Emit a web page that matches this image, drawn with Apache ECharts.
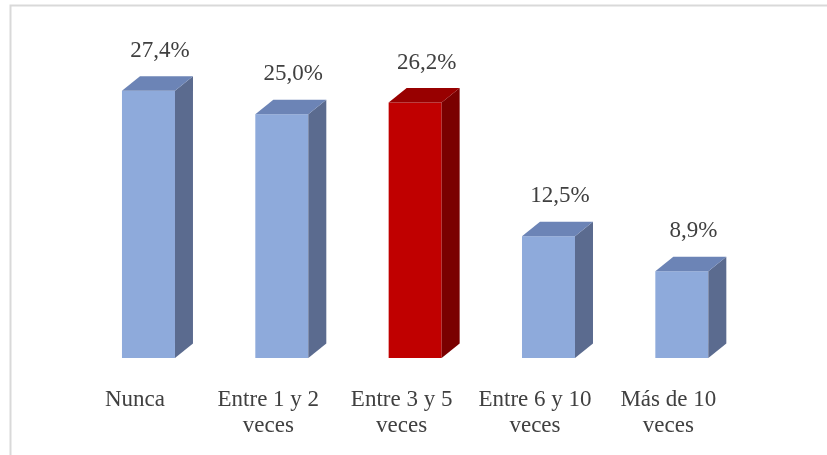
<!DOCTYPE html>
<html>
<head>
<meta charset="utf-8">
<script src="https://cdn.jsdelivr.net/npm/echarts@6/dist/echarts.min.js"></script>
<style>html,body{margin:0;padding:0;background:#fff}#c{width:827px;height:455px}</style>
</head>
<body>
<div id="c"></div>
<script>
const categories = ['Nunca', 'Entre 1 y 2\nveces', 'Entre 3 y 5\nveces', 'Entre 6 y 10\nveces', 'Más de 10\nveces'];
const values = [27.4, 25.0, 26.2, 12.5, 8.9];
const labels = ['27,4%', '25,0%', '26,2%', '12,5%', '8,9%'];
const highlightIndex = 2;

const blue = {front: '#8EAADB', side: '#5B6B8F', top: '#6C84B6'};
const red = {front: '#C00000', side: '#7A0000', top: '#980000'};

const chart = echarts.init(document.getElementById('c'));
chart.setOption({
  animation: false,
  backgroundColor: '#fff',
  graphic: [{
    type: 'rect', shape: {x: 10.5, y: 5.5, width: 840, height: 470},
    style: {fill: 'none', stroke: '#D9D9D9', lineWidth: 2}, silent: true
  }],
  grid: {left: 68.3, width: 666.7, top: 65.5, bottom: 97},
  xAxis: {
    type: 'category', data: categories,
    axisLine: {show: false}, axisTick: {show: false},
    axisLabel: {
      interval: 0, margin: 29, color: '#404040',
      fontFamily: 'Liberation Serif', fontSize: 23, lineHeight: 26
    }
  },
  yAxis: {type: 'value', min: 0, max: 30, show: false, splitLine: {show: false}},
  series: [{
    type: 'custom',
    data: values.map((v, i) => [i, v]),
    renderItem: function (params, api) {
      const i = api.value(0);
      const v = api.value(1);
      const top = api.coord([i, v]);
      const base = api.coord([i, 0]);
      const cx = top[0];
      const x0 = cx - 13, x1 = cx + 40;
      const dx = 18, dy = 14.5;
      const yT = top[1], yB = base[1];
      const c = i === highlightIndex ? red : blue;
      return {
        type: 'group',
        children: [
          {type: 'rect', shape: {x: x0, y: yT, width: x1 - x0, height: yB - yT}, style: {fill: c.front}},
          {type: 'polygon', shape: {points: [[x1, yT], [x1 + dx, yT - dy], [x1 + dx, yB - dy], [x1, yB]]}, style: {fill: c.side}},
          {type: 'polygon', shape: {points: [[x0, yT], [x0 + dx, yT - dy], [x1 + dx, yT - dy], [x1, yT]]}, style: {fill: c.top}},
          {type: 'text', style: {
            text: labels[i], x: cx + 25, y: yT - dy - 14,
            align: 'center', verticalAlign: 'bottom',
            fill: '#404040', font: '23px "Liberation Serif"'
          }}
        ]
      };
    }
  }]
});
</script>
</body>
</html>
